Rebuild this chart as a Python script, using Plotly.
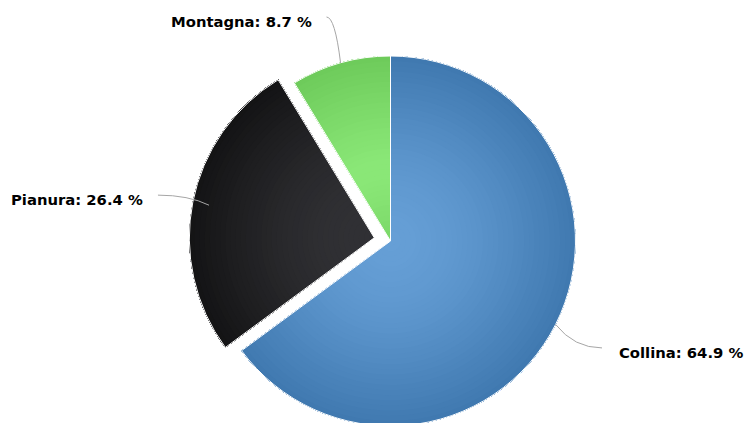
import numpy as np
import plotly.graph_objects as go

# ---- data ----
categories = ["Collina", "Pianura", "Montagna"]
values = [64.9, 26.4, 8.7]
sliced = [False, True, False]

# ---- style ----
base_colors = ["#7cb5ec", "#434348", "#90ed7d"]
W, H = 753, 423
OFF = 8.0                      # page body margin; geometry below is in page pixels
CX, CY, R = 390.5, 241.0, 185.0
PULL = 16.5
CONN = 52          # connector length beyond pie edge
LABEL_MIN_Y = 17   # labels kept inside the top of the chart
N_RINGS = 36
FONT = "DejaVu Sans"


def hex2rgb(h):
    h = h.lstrip("#")
    return np.array([int(h[i:i + 2], 16) for i in (0, 2, 4)], dtype=float)


total = float(sum(values))
fr = np.array(values) / total
ends = np.cumsum(fr)
starts = ends - fr
a_start = starts * 2 * np.pi
a_end = ends * 2 * np.pi
a_mid = (a_start + a_end) / 2

D = 2 * R
GX, GY = 0.0, -0.2 * D
GR = 0.7 * D


def ring_color(i, rho):
    light = hex2rgb(base_colors[i])
    dark = np.clip(light - 76, 0, 255)
    angs = np.linspace(a_start[i], a_end[i], 80)
    px = rho * np.sin(angs)
    py = -rho * np.cos(angs)
    t = np.clip(np.hypot(px - GX, py - GY) / GR, 0, 1)
    cols = light[None, :] + (dark - light)[None, :] * t[:, None]
    c = cols.mean(axis=0)
    return "rgb(%d,%d,%d)" % tuple(np.round(c).astype(int))


def dom(cx, cy):
    fx, fy = cx - OFF, cy - OFF
    x0 = max(0.0, (fx - R) / W)
    x1 = min(1.0, (fx + R) / W)
    y0 = max(0.0, (H - fy - R) / H)
    y1 = min(1.0, (H - fy + R) / H)
    return dict(x=[x0, x1], y=[y0, y1])


centers = []
for i in range(len(values)):
    if sliced[i]:
        centers.append((CX + PULL * np.sin(a_mid[i]), CY - PULL * np.cos(a_mid[i])))
    else:
        centers.append((CX, CY))

TR = "rgba(0,0,0,0)"
fig = go.Figure()
fig.add_trace(go.Scatter(x=[OFF], y=[OFF], mode="markers", marker=dict(opacity=0),
                         hoverinfo="skip", showlegend=False))

groups = [[i for i in range(len(values)) if not sliced[i]],
          [i for i in range(len(values)) if sliced[i]]]

for g in groups:
    if not g:
        continue
    cx, cy = centers[g[0]]
    for k in range(N_RINGS):
        rho = (k + 0.5) / N_RINGS * R
        cols = [ring_color(i, rho) if i in g else TR for i in range(len(values))]
        fig.add_trace(go.Pie(
            values=values, labels=categories, sort=False, direction="clockwise",
            rotation=0, hole=k / N_RINGS, domain=dom(cx, cy),
            marker=dict(colors=cols, line=dict(width=0)),
            textinfo="none", hoverinfo="skip", showlegend=False))
    fig.add_trace(go.Pie(
        values=values, labels=categories, sort=False, direction="clockwise",
        rotation=0, domain=dom(cx, cy),
        marker=dict(colors=[TR] * len(values),
                    line=dict(color="white",
                              width=[1 if i in g else 0 for i in range(len(values))])),
        textinfo="none", hoverinfo="skip", showlegend=False))

shapes = []
annotations = []
for i in range(len(values)):
    s, c = np.sin(a_mid[i]), np.cos(a_mid[i])
    ex, ey = CX + R * s, CY - R * c
    ax, ay = CX + (R + CONN) * s, max(LABEL_MIN_Y, CY - (R + CONN) * c)
    qx, qy = ax + 0.6 * (ex - ax), ay
    shapes.append(dict(type="path", xref="x", yref="y",
                       path="M %.2f %.2f Q %.2f %.2f %.2f %.2f" % (ax, ay, qx, qy, ex, ey),
                       line=dict(color="#a6a6a6", width=1), layer="above"))
    right = s > 0
    annotations.append(dict(
        x=ax + (15 if right else -13), y=ay + 4.5, xref="x", yref="y",
        text="%s: %s %%" % (categories[i], values[i]), showarrow=False,
        xanchor="left" if right else "right", yanchor="middle",
        font=dict(family=FONT, size=14.8, color="#000000", weight="bold")))

fig.update_layout(
    width=W, height=H, margin=dict(l=0, r=0, t=0, b=0),
    paper_bgcolor="white", plot_bgcolor="white",
    xaxis=dict(range=[OFF, OFF + W], visible=False, fixedrange=True, domain=[0, 1]),
    yaxis=dict(range=[OFF + H, OFF], visible=False, fixedrange=True, domain=[0, 1]),
    shapes=shapes, annotations=annotations, showlegend=False)

fig.write_html("out.html")
